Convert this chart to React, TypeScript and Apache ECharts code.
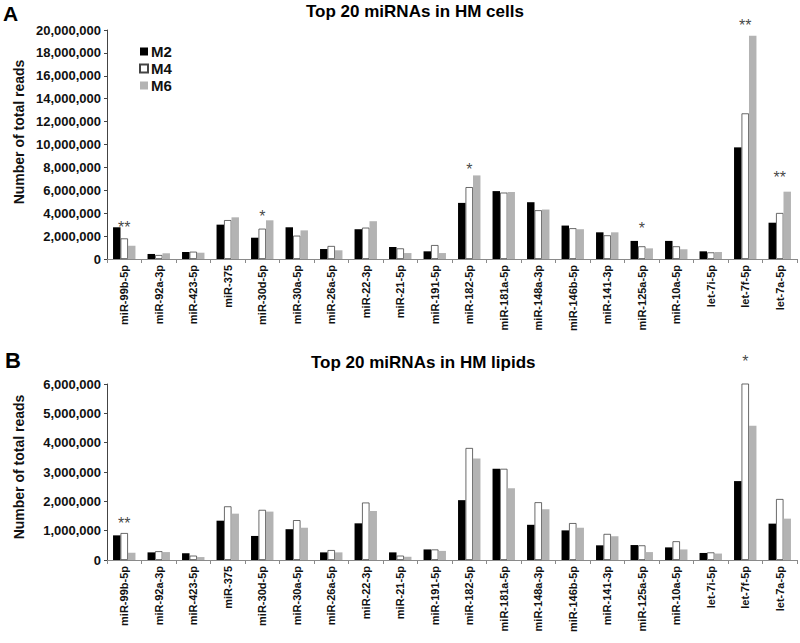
import React, { useEffect, useRef } from "react";
import * as echarts from "echarts";

const categories = [
  "miR-99b-5p", "miR-92a-3p", "miR-423-5p", "miR-375", "miR-30d-5p",
  "miR-30a-5p", "miR-26a-5p", "miR-22-3p", "miR-21-5p", "miR-191-5p",
  "miR-182-5p", "miR-181a-5p", "miR-148a-3p", "miR-146b-5p", "miR-141-3p",
  "miR-125a-5p", "miR-10a-5p", "let-7i-5p", "let-7f-5p", "let-7a-5p",
];

// Panel A: HM cells
const cellsM2 = [2770000, 440000, 610000, 3000000, 1860000, 2770000, 870000, 2600000, 1050000, 670000,
  4900000, 5930000, 4960000, 2920000, 2330000, 1580000, 1580000, 670000, 9750000, 3170000];
const cellsM4 = [1800000, 350000, 640000, 3400000, 2650000, 2040000, 1140000, 2740000, 930000, 1220000,
  6280000, 5800000, 4260000, 2690000, 2070000, 1110000, 1110000, 580000, 12720000, 4020000];
const cellsM6 = [1160000, 500000, 550000, 3640000, 3380000, 2500000, 760000, 3300000, 520000, 520000,
  7300000, 5860000, 4320000, 2600000, 2330000, 930000, 850000, 610000, 19500000, 5880000];
const cellsStars = ["**", "", "", "", "*", "", "", "", "", "", "*", "", "", "", "", "*", "", "", "**", "**"];
const cellsStarLevel = [3140000, 0, 0, 0, 4100000, 0, 0, 0, 0, 0, 8200000, 0, 0, 0, 0, 2970000, 0, 0, 20700000, 7500000];

// Panel B: HM lipids
const lipidsM2 = [840000, 260000, 230000, 1340000, 820000, 1050000, 260000, 1250000, 260000, 360000,
  2040000, 3110000, 1200000, 1010000, 500000, 510000, 430000, 240000, 2690000, 1240000];
const lipidsM4 = [920000, 300000, 150000, 1830000, 1710000, 1360000, 340000, 1960000, 150000, 360000,
  3820000, 3110000, 1970000, 1260000, 890000, 500000, 640000, 260000, 6500000, 2080000];
const lipidsM6 = [250000, 270000, 100000, 1580000, 1650000, 1100000, 260000, 1670000, 110000, 310000,
  3460000, 2450000, 1730000, 1100000, 810000, 270000, 360000, 220000, 4580000, 1410000];
const lipidsStars = ["**", "", "", "", "", "", "", "", "", "", "", "", "", "", "", "", "", "", "*", ""];
const lipidsStarLevel = [1370000, 0, 0, 0, 0, 0, 0, 0, 0, 0, 0, 0, 0, 0, 0, 0, 0, 0, 6900000, 0];

const FONT = "Liberation Sans, Arial, Helvetica, sans-serif";

function starData(stars: string[], levels: number[]) {
  const out: any[] = [];
  stars.forEach((s, i) => {
    if (s) out.push({ value: [categories[i], levels[i]], label: { formatter: s } });
  });
  return out;
}

export default function App() {
  const ref = useRef<HTMLDivElement>(null);
  useEffect(() => {
    if (!ref.current) return;
    const chart = echarts.init(ref.current, null, { renderer: "svg" });
    const fmt = (v: number) => v.toLocaleString("en-US");
    const xAxisBase = {
      type: "category",
      data: categories,
      axisLine: { lineStyle: { color: "#8a8a8a", width: 1 } },
      axisTick: { show: true, length: 4, lineStyle: { color: "#8a8a8a" } },
      axisLabel: { rotate: 90, fontFamily: FONT, fontWeight: "bold", fontSize: 11, color: "#111", margin: 6, interval: 0 },
    };
    const yAxisBase = {
      type: "value",
      min: 0,
      splitLine: { show: false },
      axisLine: { show: true, lineStyle: { color: "#444", width: 1 } },
      axisTick: { show: true, length: 3, lineStyle: { color: "#444" } },
      axisLabel: { formatter: fmt, fontFamily: FONT, fontWeight: "bold", fontSize: 13, color: "#111", margin: 6 },
    };
    const barCommon = { type: "bar", barGap: "0%", barCategoryGap: "35%" };
    const m2Style = { color: "#000000" };
    const m4Style = { color: "#ffffff", borderColor: "#444444", borderWidth: 0.8 };
    const m6Style = { color: "#b3b3b3" };
    const starCommon = {
      type: "scatter",
      symbolSize: 1,
      clip: false,
      silent: true,
      itemStyle: { color: "rgba(0,0,0,0)" },
      label: {
        show: true, position: "inside", fontFamily: FONT, fontSize: 16, color: "#111",
        textBorderColor: "transparent", textBorderWidth: 0, offset: [0, 4],
      },
    };
    chart.setOption({
      animation: false,
      backgroundColor: "#ffffff",
      textStyle: { fontFamily: FONT },
      grid: [
        { left: 107, right: 3, top: 30, height: 229 },
        { left: 107, right: 3, top: 384, height: 176 },
      ],
      legend: {
        data: ["M2", "M4", "M6"],
        orient: "vertical",
        left: 134,
        top: 39,
        icon: "rect",
        itemWidth: 8,
        itemHeight: 8,
        itemGap: 2,
        textStyle: { fontFamily: FONT, fontWeight: "bold", fontSize: 15, color: "#111", padding: [0, 0, 0, -2] },
      },
      xAxis: [
        { ...xAxisBase, gridIndex: 0 },
        { ...xAxisBase, gridIndex: 1 },
      ],
      yAxis: [
        { ...yAxisBase, gridIndex: 0, max: 20000000, interval: 2000000 },
        { ...yAxisBase, gridIndex: 1, max: 6000000, interval: 1000000 },
      ],
      series: [
        { ...barCommon, name: "M2", xAxisIndex: 0, yAxisIndex: 0, data: cellsM2, itemStyle: m2Style },
        { ...barCommon, name: "M4", xAxisIndex: 0, yAxisIndex: 0, data: cellsM4, itemStyle: m4Style },
        { ...barCommon, name: "M6", xAxisIndex: 0, yAxisIndex: 0, data: cellsM6, itemStyle: m6Style },
        { ...barCommon, name: "M2", xAxisIndex: 1, yAxisIndex: 1, data: lipidsM2, itemStyle: m2Style },
        { ...barCommon, name: "M4", xAxisIndex: 1, yAxisIndex: 1, data: lipidsM4, itemStyle: m4Style },
        { ...barCommon, name: "M6", xAxisIndex: 1, yAxisIndex: 1, data: lipidsM6, itemStyle: m6Style },
        { ...starCommon, name: "starsA", xAxisIndex: 0, yAxisIndex: 0, data: starData(cellsStars, cellsStarLevel) },
        { ...starCommon, name: "starsB", xAxisIndex: 1, yAxisIndex: 1, data: starData(lipidsStars, lipidsStarLevel) },
      ],
      graphic: [
        { type: "text", left: 3, top: 3, style: { text: "A", fontFamily: FONT, fontWeight: "bold", fontSize: 21, fill: "#000" } },
        { type: "text", left: 5, top: 349, style: { text: "B", fontFamily: FONT, fontWeight: "bold", fontSize: 22, fill: "#000" } },
        { type: "text", left: 306, top: 3, style: { text: "Top 20 miRNAs in HM cells", fontFamily: FONT, fontWeight: "bold", fontSize: 17, fill: "#000" } },
        { type: "text", left: 311, top: 354, style: { text: "Top 20 miRNAs in HM lipids", fontFamily: FONT, fontWeight: "bold", fontSize: 17, fill: "#000" } },
        {
          type: "text", x: 19, y: 132, rotation: Math.PI / 2,
          style: { text: "Number of total reads", fontFamily: FONT, fontWeight: "bold", fontSize: 14, fill: "#111", align: "center", verticalAlign: "middle" },
        },
        {
          type: "text", x: 19, y: 467, rotation: Math.PI / 2,
          style: { text: "Number of total reads", fontFamily: FONT, fontWeight: "bold", fontSize: 14, fill: "#111", align: "center", verticalAlign: "middle" },
        },
      ],
    });
    return () => chart.dispose();
  }, []);
  return <div ref={ref} style={{ position: "fixed", left: 0, top: 0, width: 800, height: 643 }} />;
}
